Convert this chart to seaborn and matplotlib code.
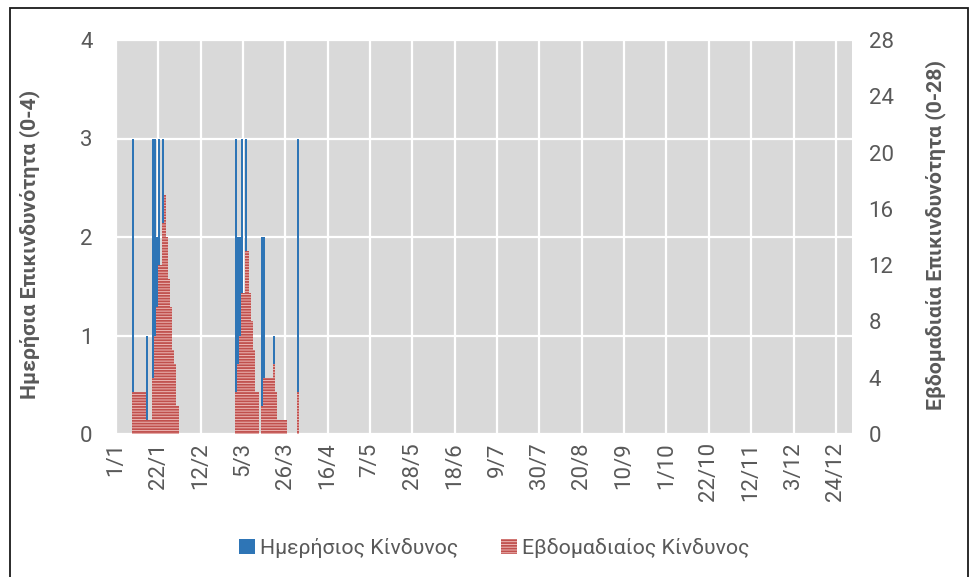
import seaborn as sns
import matplotlib.pyplot as plt
from matplotlib.patches import Patch, Rectangle

# day of year (0 = 1/1) and values
daily_days = [8, 15, 18, 19, 20, 21, 22, 23, 24, 59, 60, 61, 62, 64, 72, 73, 78, 90]
daily_risk = [3, 1, 3, 3, 2, 3, 1, 3, 2, 3, 2, 2, 3, 3, 2, 2, 1, 3]

weekly_days = [8, 9, 10, 11, 12, 13, 14, 15, 16, 17, 18, 19, 20, 21, 22, 23, 24, 25, 26, 27, 28, 29, 30,
               59, 60, 61, 62, 63, 64, 65, 66, 67, 68, 69, 70,
               72, 73, 74, 75, 76, 77, 78, 79, 80, 81, 82, 83, 84,
               90]
weekly_risk = [3, 3, 3, 3, 3, 3, 3, 1, 1, 1, 4, 7, 9, 12, 12, 15, 17, 14, 11, 9, 6, 5, 2,
               3, 5, 7, 10, 10, 13, 13, 10, 8, 6, 3, 3,
               2, 4, 4, 4, 4, 4, 5, 3, 1, 1, 1, 1, 1,
               3]

tick_days = [0, 21, 42, 63, 84, 105, 126, 147, 168, 189, 210, 231, 252, 273, 294, 315, 336, 357]
tick_labels = ['1/1', '22/1', '12/2', '5/3', '26/3', '16/4', '7/5', '28/5', '18/6', '9/7',
               '30/7', '20/8', '10/9', '1/10', '22/10', '12/11', '3/12', '24/12']

left_ticks = [0, 1, 2, 3, 4]
right_ticks = [0, 4, 8, 12, 16, 20, 24, 28]

blue = '#2E75B6'
red = '#C0504D'
pink = '#EDB9B7'
grey_text = '#595959'

sns.set_theme(style='white')
plt.rcParams['font.family'] = ['Roboto', 'DejaVu Sans']
plt.rcParams['hatch.linewidth'] = 1.3

fig = plt.figure(figsize=(9.7, 5.77), dpi=100)
ax = fig.add_axes([116 / 970, 1 - 434 / 577, 736 / 970, 394 / 577])
ax.set_facecolor('#D9D9D9')

# daily risk, left axis
sns.barplot(x=[d + 0.5 for d in daily_days], y=daily_risk, native_scale=True, width=1,
            color=blue, saturation=1, linewidth=0, ax=ax)

# weekly risk, right axis (drawn on top)
ax2 = ax.twinx()
sns.barplot(x=[d + 0.5 for d in weekly_days], y=weekly_risk, native_scale=True, width=1,
            color=pink, saturation=1, edgecolor=red, linewidth=0, hatch='------', ax=ax2)

ax.set_xlim(0, 365)
ax.set_ylim(0, 4)
ax2.set_ylim(0, 28)
ax.set_xticks(tick_days)
ax.set_xticklabels(tick_labels, rotation=90, color=grey_text, fontsize=16)
ax.set_yticks(left_ticks)
ax.set_yticklabels([str(t) for t in left_ticks], color=grey_text, fontsize=16)
ax2.set_yticks(right_ticks)
ax2.set_yticklabels([str(t) for t in right_ticks], color=grey_text, fontsize=16)

ax.grid(True, color='white', linewidth=1.6)
ax.set_axisbelow(True)
ax2.grid(False)
for a in (ax, ax2):
    for s in a.spines.values():
        s.set_visible(False)
ax.tick_params(axis='both', length=0)
ax.tick_params(axis='y', pad=17)
ax.tick_params(axis='x', pad=6)
ax2.tick_params(axis='y', length=0, pad=12)

ax.set_ylabel('Ημερήσια Επικινδυνότητα (0-4)', fontsize=15.3, fontweight='bold', color=grey_text)
ax.yaxis.set_label_coords(-0.103, 0.48)
ax2.set_ylabel('Εβδομαδιαία Επικινδυνότητα (0-28)', fontsize=15.3, fontweight='bold', color=grey_text)
ax2.yaxis.set_label_coords(1.099, 0.505)

handles = [Patch(facecolor=blue, edgecolor=blue, linewidth=0),
           Patch(facecolor=pink, edgecolor=red, linewidth=0, hatch='------')]
fig.legend(handles, ['Ημερήσιος Κίνδυνος', 'Εβδομαδιαίος Κίνδυνος'], loc='center',
           bbox_to_anchor=(494 / 970, 1 - 548 / 577), ncol=2, frameon=False, fontsize=15.3,
           labelcolor=grey_text, handlelength=0.75, handleheight=0.75, handletextpad=0.25,
           columnspacing=2.0)

# chart border
fig.add_artist(Rectangle((10 / 970, -0.05), 958 / 970, 1.05 - 8 / 577, transform=fig.transFigure,
                         fill=False, edgecolor='#1a1a1a', linewidth=1.3))

fig.savefig('out.png', dpi=100)
